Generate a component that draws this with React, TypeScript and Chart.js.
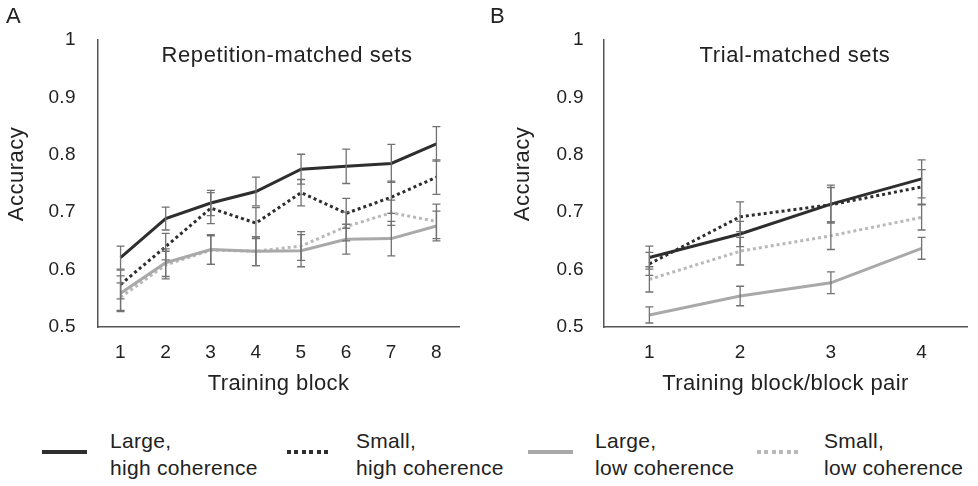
import { useEffect, useRef } from "react"
import { Chart, registerables } from "chart.js"

Chart.register(...registerables)

const FONT = '"Liberation Sans", Arial, Helvetica, sans-serif'
Chart.defaults.font.family = FONT

// Panel A: repetition-matched sets
const blocksA = ["1", "2", "3", "4", "5", "6", "7", "8"]
const largeHighA = [0.621, 0.689, 0.716, 0.736, 0.775, 0.78, 0.785, 0.819]
const largeHighErrA = [0.02, 0.02, 0.022, 0.025, 0.026, 0.03, 0.033, 0.03]
const smallHighA = [0.574, 0.64, 0.707, 0.681, 0.734, 0.698, 0.726, 0.761]
const smallHighErrA = [0.025, 0.023, 0.027, 0.027, 0.023, 0.026, 0.028, 0.03]
const largeLowA = [0.559, 0.612, 0.635, 0.632, 0.633, 0.653, 0.654, 0.676]
const largeLowErrA = [0.03, 0.024, 0.026, 0.025, 0.028, 0.026, 0.03, 0.026]
const smallLowA = [0.552, 0.608, 0.634, 0.632, 0.641, 0.675, 0.699, 0.684]
const smallLowErrA = [0.025, 0.024, 0.025, 0.025, 0.025, 0.025, 0.022, 0.03]

// Panel B: trial-matched sets
const blocksB = ["1", "2", "3", "4"]
const largeHighB = [0.621, 0.662, 0.714, 0.758]
const largeHighErrB = [0.02, 0.022, 0.033, 0.033]
const smallHighB = [0.61, 0.692, 0.713, 0.744]
const smallHighErrB = [0.02, 0.026, 0.03, 0.03]
const largeLowB = [0.521, 0.554, 0.577, 0.637]
const largeLowErrB = [0.014, 0.017, 0.019, 0.019]
const smallLowB = [0.583, 0.632, 0.659, 0.691]
const smallLowErrB = [0.022, 0.024, 0.024, 0.022]

const yTicks = [0.5, 0.6, 0.7, 0.8, 0.9, 1]
const yTickLabels = ["0.5", "0.6", "0.7", "0.8", "0.9", "1"]

const seriesNames = [
  ["Large,", "high coherence"],
  ["Small,", "high coherence"],
  ["Large,", "low coherence"],
  ["Small,", "low coherence"],
]

const DARK = "#2e2e2e"
const LIGHT = "#a9a9a9"
const LIGHT_DOT = "#b9b9b9"
const TEXT = "#222"

const seriesStyles = [
  { color: DARK, dash: [] as number[] },
  { color: DARK, dash: [3, 3] },
  { color: LIGHT, dash: [] as number[] },
  { color: LIGHT_DOT, dash: [3, 3] },
]

interface PanelProps {
  left: number
  width: number
  letter: string
  title: string
  titleX: number
  xTitle: string
  labels: string[]
  series: number[][]
  errors: number[][]
  axisLeft: number
  padRight: number
  yLabelGap: number
  yTitleX: number
}

function Panel({
  left,
  width,
  letter,
  title,
  titleX,
  xTitle,
  labels,
  series,
  errors,
  axisLeft,
  padRight,
  yLabelGap,
  yTitleX,
}: PanelProps) {
  const chartRef = useRef<HTMLCanvasElement>(null)
  const chartInstance = useRef<Chart | null>(null)

  useEffect(() => {
    if (!chartRef.current) return
    if (chartInstance.current) chartInstance.current.destroy()
    const ctx = chartRef.current.getContext("2d")
    if (!ctx) return

    // the original font is a bit wider than Arial
    const spacing = {
      id: "spacing",
      beforeDraw(chart: Chart) {
        ;(chart.ctx as any).letterSpacing = "0.4px"
      },
    }

    const errorBars = {
      id: "errorBars",
      afterDatasetsDraw(chart: Chart) {
        const c = chart.ctx
        const y = chart.scales.y
        c.save()
        c.strokeStyle = "#727272"
        c.lineWidth = 1.3
        errors.forEach((errs, i) => {
          const meta = chart.getDatasetMeta(i)
          const values = series[i]
          meta.data.forEach((pt, j) => {
            const x = pt.x
            const top = y.getPixelForValue(values[j] + errs[j])
            const bot = y.getPixelForValue(values[j] - errs[j])
            c.beginPath()
            c.moveTo(x, top)
            c.lineTo(x, bot)
            c.moveTo(x - 4, top)
            c.lineTo(x + 4, top)
            c.moveTo(x - 4, bot)
            c.lineTo(x + 4, bot)
            c.stroke()
          })
        })
        c.restore()
      },
    }

    const panelText = {
      id: "panelText",
      afterDraw(chart: Chart) {
        const c = chart.ctx
        c.save()
        ;(c as any).letterSpacing = "0.6px"
        c.fillStyle = TEXT
        c.textBaseline = "alphabetic"
        c.font = `22px ${FONT}`
        c.textAlign = "left"
        c.fillText(letter, letter === "A" ? 6 : 0, 23)
        c.textAlign = "center"
        c.fillText(title, titleX, 62)
        ;(c as any).letterSpacing = "0.5px"
        c.translate(yTitleX, 174)
        c.rotate(-Math.PI / 2)
        c.textBaseline = "middle"
        c.fillText("Accuracy", 0, 0)
        c.restore()
      },
    }

    chartInstance.current = new Chart(ctx, {
      type: "line",
      data: {
        labels,
        datasets: series.map((data, i) => ({
          label: seriesNames[i].join(" "),
          data,
          borderColor: seriesStyles[i].color,
          borderDash: seriesStyles[i].dash,
          borderWidth: 3,
          pointRadius: 0,
          tension: 0,
        })),
      },
      options: {
        responsive: true,
        maintainAspectRatio: false,
        animation: false,
        layout: { padding: { left: 0, top: 40, right: padRight, bottom: 0 } },
        plugins: {
          legend: { display: false },
          tooltip: { enabled: false },
        },
        scales: {
          x: {
            offset: true,
            grid: { display: true, drawOnChartArea: false, drawTicks: false },
            border: { display: true, color: "#555", width: 1.5 },
            ticks: { color: TEXT, font: { size: 19 }, padding: 14 },
            title: {
              display: true,
              text: xTitle,
              color: TEXT,
              font: { size: 22 },
              padding: { top: 0, bottom: 3 },
            },
            afterFit: (scale) => {
              scale.height = 73
            },
          },
          y: {
            min: 0.5,
            max: 1,
            grid: { display: true, drawOnChartArea: false, drawTicks: false },
            border: { display: true, color: "#555", width: 1.5 },
            afterBuildTicks: (scale) => {
              scale.ticks = yTicks.map((value) => ({ value }))
            },
            ticks: {
              color: TEXT,
              font: { size: 19 },
              padding: yLabelGap,
              callback: (_v, i) => yTickLabels[i],
            },
            afterFit: (scale) => {
              scale.width = axisLeft
            },
          },
        },
      },
      plugins: [spacing, errorBars, panelText],
    })

    return () => {
      if (chartInstance.current) {
        chartInstance.current.destroy()
        chartInstance.current = null
      }
    }
  }, [labels, series, errors, letter, title, xTitle])

  return (
    <div style={{ position: "absolute", left, top: 0, width, height: 400 }}>
      <canvas ref={chartRef} />
    </div>
  )
}

const legendPos = [
  { lineX: 42, textX: 110 },
  { lineX: 287, textX: 356 },
  { lineX: 528, textX: 595 },
  { lineX: 757, textX: 824 },
]

function Legend() {
  return (
    <>
      {seriesNames.map((name, i) => {
        const st = seriesStyles[i]
        const dotted = st.dash.length > 0
        return (
          <div key={i}>
            <div
              style={{
                position: "absolute",
                left: legendPos[i].lineX,
                top: 450,
                width: 45,
                height: 4,
                background: dotted
                  ? `repeating-linear-gradient(to right, ${st.color} 0 4px, transparent 4px 7.5px)`
                  : st.color,
              }}
            />
            <div
              style={{
                position: "absolute",
                left: legendPos[i].textX,
                top: 427,
                font: `21px ${FONT}`,
                letterSpacing: "0.3px",
                lineHeight: "27px",
                color: TEXT,
                whiteSpace: "nowrap",
              }}
            >
              {name[0]}
              <br />
              {name[1]}
            </div>
          </div>
        )
      })}
    </>
  )
}

const seriesA = [largeHighA, smallHighA, largeLowA, smallLowA]
const errorsA = [largeHighErrA, smallHighErrA, largeLowErrA, smallLowErrA]
const seriesB = [largeHighB, smallHighB, largeLowB, smallLowB]
const errorsB = [largeHighErrB, smallHighErrB, largeLowErrB, smallLowErrB]

export default function App() {
  return (
    <div
      style={{
        position: "absolute",
        left: 0,
        top: 0,
        width: 978,
        height: 486,
        background: "#fff",
        overflow: "hidden",
      }}
    >
      <Panel
        left={0}
        width={490}
        letter="A"
        title="Repetition-matched sets"
        titleX={287}
        xTitle="Training block"
        labels={blocksA}
        series={seriesA}
        errors={errorsA}
        axisLeft={98}
        padRight={31}
        yLabelGap={22}
        yTitleX={17}
      />
      <Panel
        left={490}
        width={488}
        letter="B"
        title="Trial-matched sets"
        titleX={305}
        xTitle="Training block/block pair"
        labels={blocksB}
        series={seriesB}
        errors={errorsB}
        axisLeft={114}
        padRight={11}
        yLabelGap={20}
        yTitleX={33}
      />
      <Legend />
    </div>
  )
}
